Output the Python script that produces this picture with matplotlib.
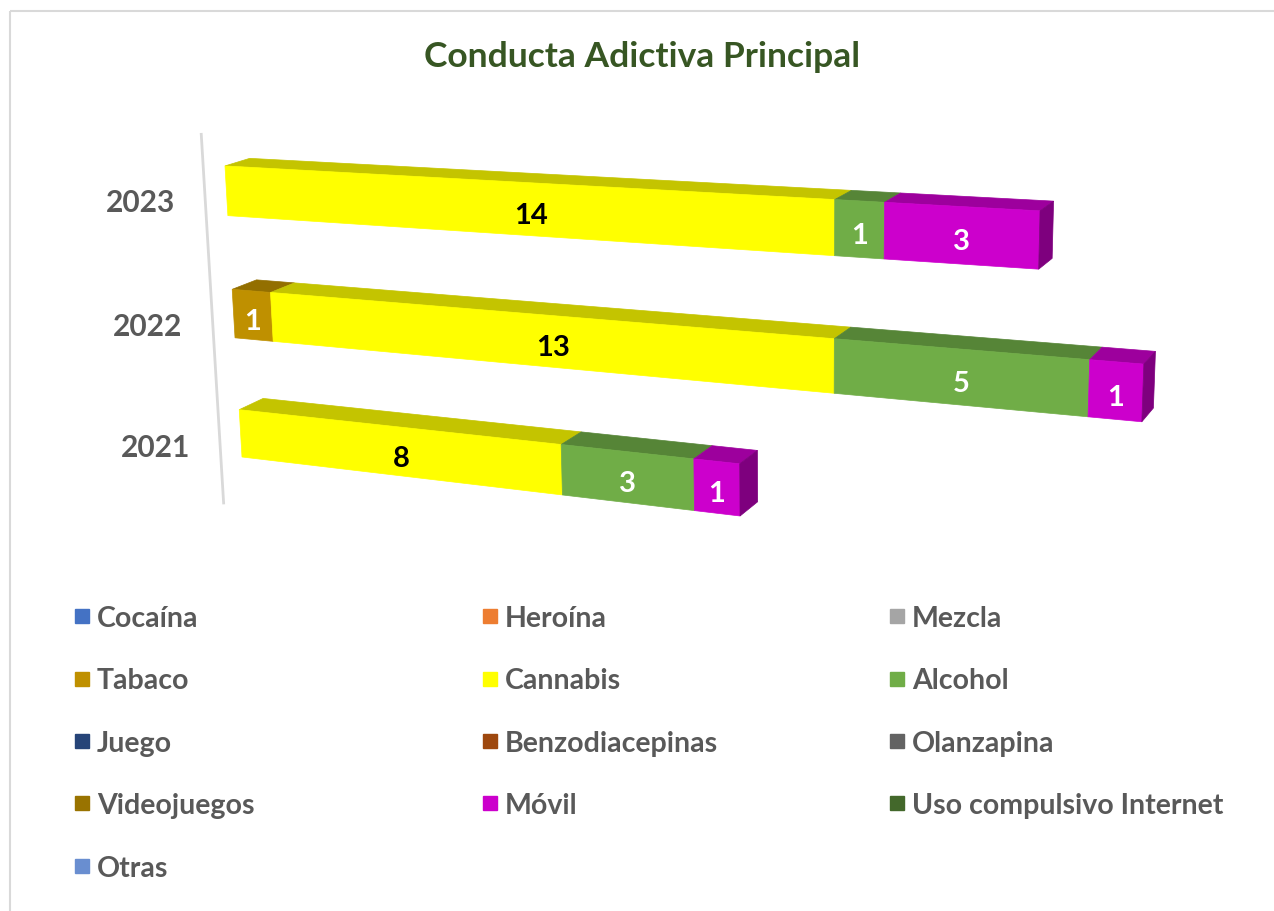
import matplotlib.pyplot as plt
from matplotlib.patches import Rectangle
from matplotlib.colors import to_rgb

plt.rcParams['font.family'] = ['Lato', 'DejaVu Sans']

# Datos (conteo por año y conducta)
years = ['2021', '2022', '2023']
series_names = ['Cocaína', 'Heroína', 'Mezcla', 'Tabaco', 'Cannabis', 'Alcohol',
                'Juego', 'Benzodiacepinas', 'Olanzapina', 'Videojuegos', 'Móvil',
                'Uso compulsivo Internet', 'Otras']
cocaina = [0, 0, 0]
heroina = [0, 0, 0]
mezcla = [0, 0, 0]
tabaco = [0, 1, 0]
cannabis = [8, 13, 14]
alcohol = [3, 5, 1]
juego = [0, 0, 0]
benzodiacepinas = [0, 0, 0]
olanzapina = [0, 0, 0]
videojuegos = [0, 0, 0]
movil = [1, 1, 3]
internet = [0, 0, 0]
otras = [0, 0, 0]
series_values = [cocaina, heroina, mezcla, tabaco, cannabis, alcohol, juego,
                 benzodiacepinas, olanzapina, videojuegos, movil, internet, otras]
series_colors = ['#4472C4', '#ED7D31', '#A5A5A5', '#BF9000', '#FFFF00', '#70AD47',
                 '#264478', '#9E480E', '#636363', '#997300', '#CC00CC', '#43682B',
                 '#698ED0']

# Perspectiva 3D tipo Excel (punto de fuga por eje)
ORIGIN = (242, 458)
VX, ALPHA = (-4342, -85), -0.008167
VY, BETA = (806, 10100), -0.01221
VZ, GAMMA = (1750, -300), 0.016
BAR_H = 0.4     # grosor de barra (espaciado de categoría = 1)
BAR_D = 1.0     # profundidad
AXIS_Z = -0.84


def project(x, y, z):
    w = ALPHA * x + BETA * y + GAMMA * z + 1
    px = (ALPHA * x * VX[0] + BETA * y * VY[0] + GAMMA * z * VZ[0] + ORIGIN[0]) / w
    py = (ALPHA * x * VX[1] + BETA * y * VY[1] + GAMMA * z * VZ[1] + ORIGIN[1]) / w
    return px, py


def face(pts):
    p = [project(*q) for q in pts]
    return [a for a, b in p], [b for a, b in p]


def shade(color, f):
    r, g, b = to_rgb(color)
    return (r * f, g * f, b * f)


fig = plt.figure(figsize=(12.74, 9.12), dpi=100)
ax = fig.add_axes([0, 0, 1, 1])
ax.set_xlim(0, 1274)
ax.set_ylim(912, 0)
ax.axis('off')

# marco del gráfico
ax.add_patch(Rectangle((10, 12), 1300, 950, fill=False, edgecolor='#D9D9D9', lw=1.5))

ax.text(642, 57, 'Conducta Adictiva Principal', ha='center', va='center',
        fontsize=25.5, fontweight='bold', color='#375623')

# eje de categorías
ax0 = face([(0, -0.3, AXIS_Z), (0, 2 + BAR_H + 0.3, AXIS_Z)])
ax.plot(ax0[0], ax0[1], color='#D9D9D9', lw=2)

for k, year in enumerate(years):
    y0, y1 = k, k + BAR_H
    ax.annotate(year, xy=project(0, k + BAR_H / 2, AXIS_Z), xytext=(-30, -4),
                textcoords='offset pixels', ha='right', va='center',
                fontsize=21.5, fontweight='bold', color='#595959')
    segs = [(vals[k], col) for vals, col in zip(series_values, series_colors) if vals[k] > 0]
    start = 0
    for i, (v, col) in enumerate(segs):
        x0, x1 = start, start + v
        top = face([(x0, y1, 0), (x1, y1, 0), (x1, y1, BAR_D), (x0, y1, BAR_D)])
        front = face([(x0, y0, 0), (x1, y0, 0), (x1, y1, 0), (x0, y1, 0)])
        ax.fill(*top, color=shade(col, 0.77), lw=0.5)
        ax.fill(*front, color=col, lw=0.5)
        if i == len(segs) - 1:
            side = face([(x1, y0, 0), (x1, y0, BAR_D), (x1, y1, BAR_D), (x1, y1, 0)])
            ax.fill(*side, color=shade(col, 0.62), lw=0.5)
        cx = sum(front[0]) / 4
        cy = sum(front[1]) / 4
        ax.text(cx, cy + 6, str(v), ha='center', va='center', fontsize=21,
                fontweight='bold', color='black' if col == '#FFFF00' else 'white')
        start = x1

# leyenda (3 columnas, orden por filas)
for i, (name, col) in enumerate(zip(series_names, series_colors)):
    r, c = divmod(i, 3)
    lx = [75, 483, 890][c]
    ly = 617 + r * 62.5
    ax.add_patch(Rectangle((lx, ly - 7), 14, 14, color=col))
    ax.text(lx + 22, ly + 2, name, ha='left', va='center', fontsize=20.5,
            fontweight='bold', color='#595959')

fig.savefig('out.png', dpi=100)
